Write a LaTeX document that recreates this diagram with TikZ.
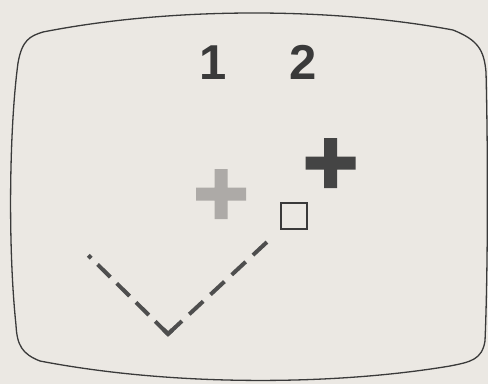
\documentclass[tikz,border=0pt]{standalone}
\usepackage{fontspec}
\setmainfont{Liberation Sans}
\usepackage{xcolor}
\usetikzlibrary{calc}

\definecolor{paper}{HTML}{EBE8E3}
\definecolor{ink}{HTML}{3A3A3A}
\definecolor{inkgray}{HTML}{ADAAA7}

\begin{document}
\begin{tikzpicture}[x=1pt, y=-1pt,
    digit/.style={inner sep=0pt, text=ink, font=\fontsize{49}{49}\selectfont\bfseries},
    screen/.style={draw=ink, line width=1.3pt, line join=round},
    cursor/.style={draw=ink, line width=1.3pt},
    track/.style={draw=ink!90, line width=4pt, line cap=butt}]

    % papier
    \fill[paper] (0,0) rectangle (488,384);
    \useasboundingbox (0,0) rectangle (488,384);

    % Bildschirm
    \draw[screen] (43,32) .. controls (170,7) and (330,7) .. (453,30)
        .. controls (478,40) and (484,50) .. (486,72)
        .. controls (488,150) and (488,270) .. (485,341)
        .. controls (482,360) and (470,362) .. (450,366)
        .. controls (330,386) and (170,386) .. (40,361)
        .. controls (22,354) and (17,345) .. (16,325)
        .. controls (8,250) and (9,130) .. (18,63)
        .. controls (22,40) and (30,36) .. (43,32) -- cycle;

    % Spieler
    \node[digit] (one) at (213,62.5) {1};
    \node[digit] (two) at (303.5,62.5) {2};

    % Kreuze
    \coordinate (pA) at (221,194);
    \coordinate (pB) at (330.5,163);
    \fill[inkgray] ($(pA)+(-25,-6.5)$) rectangle ($(pA)+(25,6.5)$)
                   ($(pA)+(-6.5,-25)$) rectangle ($(pA)+(6.5,25)$);
    \fill[ink!95] ($(pB)+(-25,-6.5)$) rectangle ($(pB)+(25,6.5)$)
                  ($(pB)+(-6.5,-25)$) rectangle ($(pB)+(6.5,25)$);

    % Quadrat
    \node[cursor, minimum size=26pt, inner sep=0pt] (box) at (294,216) {};

    % Bahn
    \coordinate (v) at (168,334);
    \coordinate (l) at (88.3,255.3);
    \coordinate (r) at (267,242);
    \draw[track, dash pattern=on 18pt off 9pt] (v) -- (l);
    \draw[track, dash pattern=on 19pt off 10pt] (v) -- (r);
    \draw[track, line join=miter] ($(v)!6pt!(l)$) -- (v) -- ($(v)!6pt!(r)$);
\end{tikzpicture}
\end{document}
